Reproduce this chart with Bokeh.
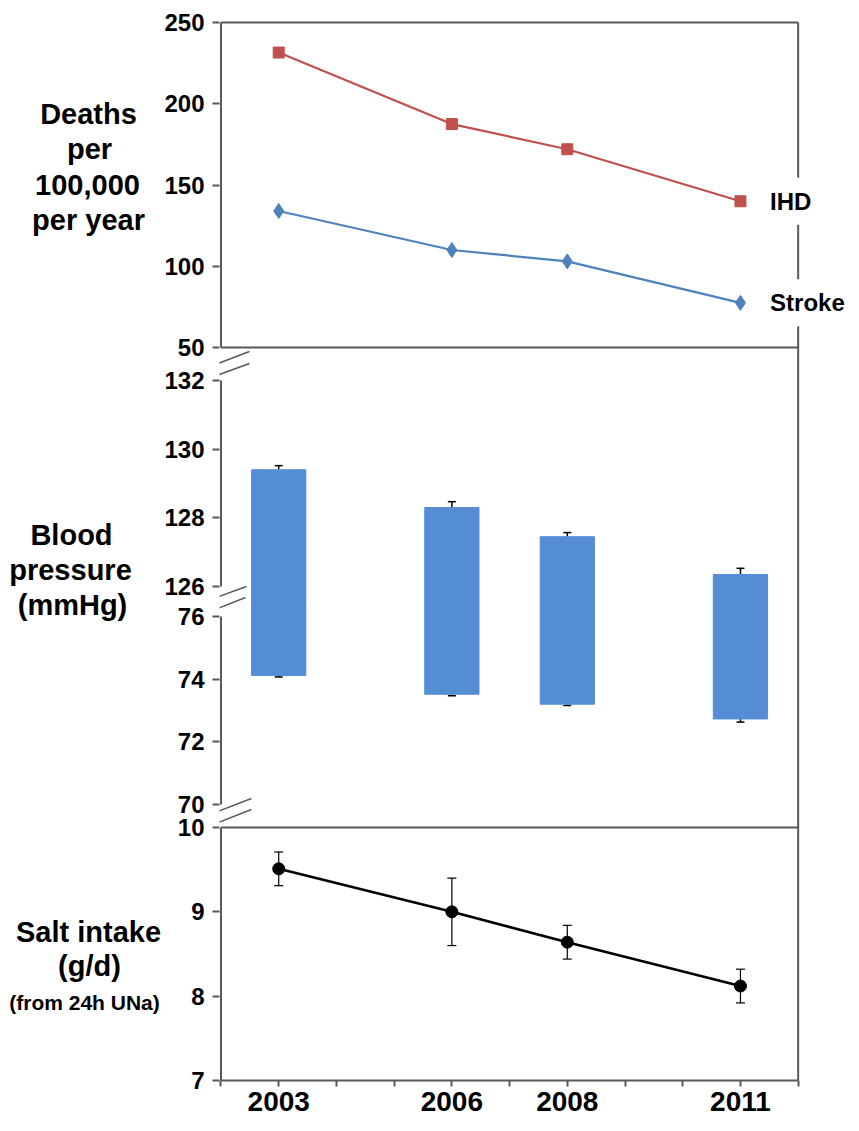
from bokeh.plotting import figure
from bokeh.layouts import row
from bokeh.models import (Range1d, FixedTicker, Arrow, Label, Whisker,
                          TeeHead, ColumnDataSource)
from bokeh.embed import file_html
from bokeh.resources import INLINE

# ---------------- data ----------------
years = [2003, 2006, 2008, 2011]
ihd = [231.5, 187.5, 172.0, 140.0]
stroke = [134.0, 110.0, 103.0, 77.5]
sbp = [129.4, 128.3, 127.45, 126.35]
sbp_err = [0.12, 0.17, 0.12, 0.18]
dbp = [74.12, 73.52, 73.2, 72.73]
dbp_err = [0.05, 0.05, 0.04, 0.1]
salt = [9.51, 9.0, 8.64, 8.12]
salt_err = [0.2, 0.4, 0.2, 0.2]

year_ticks = list(range(2002, 2013))
year_labels = ["2003", "2006", "2008", "2011"]
deaths_ticks = [50, 100, 150, 200, 250]
sbp_ticks = [126, 128, 130, 132]
dbp_ticks = [70, 72, 74, 76]
salt_ticks = [7, 8, 9, 10]

# ---------------- layout (page pixels) ----------------
TITLE_W = 161
W_TOTAL, H = 851, 1123
FRAME_L, FRAME_T, FRAME_B = 217, 20, 1080
X0, X1 = 2002, 2012
X0_PX, X1_PX = 218.5, 797.5
PANELS = {
    "deaths": (50, 250, 347, 22),
    "sys": (126, 132, 586, 380),
    "dia": (70, 76, 804, 616),
    "salt": (7, 10, 1080, 827),
}
BREAK_PX = 601
AX = "#595959"
FONT = "Liberation Sans"


def to_px(name, v):
    lo, hi, pb, pt = PANELS[name]
    return pb - (v - lo) / (hi - lo) * (pb - pt)


def from_px(name, px):
    lo, hi, pb, pt = PANELS[name]
    return lo + (pb - px) / (pb - pt) * (hi - lo)


def panel_range(name):
    return Range1d(from_px(name, FRAME_B), from_px(name, FRAME_T))


kx = (X1 - X0) / (X1_PX - X0_PX)
x_range = Range1d(X0 - (X0_PX - FRAME_L) * kx, X1 + (W_TOTAL - X1_PX) * kx)

p = figure(width=W_TOTAL - TITLE_W, height=H, title=None,
           x_range=x_range, y_range=Range1d(FRAME_B, FRAME_T),
           output_backend="svg", toolbar_location=None,
           min_border_left=FRAME_L - TITLE_W, min_border_right=0,
           min_border_top=FRAME_T, min_border_bottom=H - FRAME_B)
p.extra_y_ranges = {n: panel_range(n) for n in PANELS}
p.extra_x_ranges = {"px": Range1d(FRAME_L, W_TOTAL)}
p.outline_line_color = None
p.xgrid.visible = False
p.ygrid.visible = False
p.background_fill_color = "white"
p.border_fill_color = "white"

# ---------------- composite left axis ----------------
tick_pos = []
overrides = {}
for name, ticks in [("deaths", deaths_ticks), ("sys", sbp_ticks),
                    ("dia", dbp_ticks), ("salt", salt_ticks)]:
    for v in ticks:
        pos = round(to_px(name, v), 3)
        tick_pos.append(pos)
        overrides[pos] = str(v)
ya = p.yaxis[0]
ya.ticker = FixedTicker(ticks=tick_pos)
ya.major_label_overrides = overrides
ya.axis_line_color = None
ya.major_tick_line_color = AX
ya.major_tick_line_width = 2
ya.major_tick_out = 7
ya.major_tick_in = 0
ya.minor_tick_line_color = None
ya.major_label_standoff = 8
ya.major_label_text_font = FONT
ya.major_label_text_font_size = "24px"
ya.major_label_text_font_style = "bold"
ya.major_label_text_color = "black"

# ---------------- x axis ----------------
xa = p.xaxis[0]
xa.ticker = FixedTicker(ticks=year_ticks)
xa.bounds = (X0, X1)
xa.major_label_overrides = {y: (str(y) if str(y) in year_labels else "") for y in year_ticks}
xa.axis_line_color = AX
xa.axis_line_width = 2
xa.major_tick_line_color = AX
xa.major_tick_line_width = 2
xa.major_tick_out = 6
xa.major_tick_in = 0
xa.minor_tick_line_color = None
xa.major_label_standoff = 5
xa.major_label_text_font = FONT
xa.major_label_text_font_size = "28px"
xa.major_label_text_font_style = "bold"
xa.major_label_text_color = "black"

# ---------------- frame lines ----------------
for loc, rng in [(250, "deaths"), (50, "deaths"), (10, "salt")]:
    p.add_layout(Arrow(end=None, x_start=X0, x_end=X1, y_start=loc, y_end=loc,
                       y_range_name=rng, line_color=AX, line_width=2))
p.add_layout(Arrow(end=None, x_start=X1, x_end=X1,
                   y_start=to_px("deaths", max(deaths_ticks)),
                   y_end=to_px("salt", min(salt_ticks)),
                   line_color=AX, line_width=2))
for rng, ticks in [("deaths", deaths_ticks), ("sys", sbp_ticks),
                   ("dia", dbp_ticks), ("salt", salt_ticks)]:
    p.add_layout(Arrow(end=None, x_start=X0, x_end=X0,
                       y_start=min(ticks), y_end=max(ticks), y_range_name=rng,
                       line_color=AX, line_width=2))

# break marks (page px)
breaks = [
    ((205, 367), (247, 351)), ((203, 379), (247, 363)),
    ((197, 603), (244, 586)), ((200, 614), (243, 597)),
    ((205, 815), (249, 798)), ((203, 827), (249, 809)),
]
for (x0, y0), (x1, y1) in breaks:
    p.add_layout(Arrow(end=None, x_start=x0, y_start=y0, x_end=x1, y_end=y1,
                       x_range_name="px", line_color=AX, line_width=1.5))

# ---------------- deaths ----------------
RED = "#C0504D"
BLUE = "#4F81BD"
p.line(years, ihd, y_range_name="deaths", line_color=RED, line_width=2.2)
p.scatter(years, ihd, y_range_name="deaths", marker="square", size=11,
          fill_color=RED, line_color=RED)
p.line(years, stroke, y_range_name="deaths", line_color=BLUE, line_width=2.2)
p.scatter(years, stroke, y_range_name="deaths", marker="diamond", size=15,
          fill_color=BLUE, line_color=BLUE)
for txt, vals in [("IHD", ihd), ("Stroke", stroke)]:
    p.add_layout(Label(x=years[-1] + 0.34, y=vals[-1], y_range_name="deaths",
                       text=txt, text_baseline="middle", text_align="left",
                       text_font=FONT, text_font_size="24px",
                       text_font_style="bold", text_color="black",
                       background_fill_color="white", padding=10))

# ---------------- blood pressure ----------------
BAR = "#548DD4"
sys_cut = from_px("sys", BREAK_PX)
dia_cut = from_px("dia", BREAK_PX)
p.vbar(x=years, top=sbp, bottom=sys_cut, width=0.94, y_range_name="sys",
       fill_color=BAR, line_color=BAR)
p.vbar(x=years, top=dia_cut, bottom=dbp, width=0.94, y_range_name="dia",
       fill_color=BAR, line_color=BAR)
sys_src = ColumnDataSource(dict(x=years, lo=sbp,
                                hi=[v + e for v, e in zip(sbp, sbp_err)]))
dia_src = ColumnDataSource(dict(x=years, lo=[v - e for v, e in zip(dbp, dbp_err)],
                                hi=dbp))
p.add_layout(Whisker(source=sys_src, base="x", lower="lo", upper="hi",
                     y_range_name="sys", lower_head=None,
                     upper_head=TeeHead(size=8, line_width=1.5, line_color="black"),
                     line_width=1.5, line_color="black"))
p.add_layout(Whisker(source=dia_src, base="x", lower="lo", upper="hi",
                     y_range_name="dia", upper_head=None,
                     lower_head=TeeHead(size=8, line_width=1.5, line_color="black"),
                     line_width=1.5, line_color="black"))

# ---------------- salt ----------------
p.line(years, salt, y_range_name="salt", line_color="black", line_width=2.5)
salt_src = ColumnDataSource(dict(x=years,
                                 lo=[v - e for v, e in zip(salt, salt_err)],
                                 hi=[v + e for v, e in zip(salt, salt_err)]))
p.add_layout(Whisker(source=salt_src, base="x", lower="lo", upper="hi",
                     y_range_name="salt",
                     lower_head=TeeHead(size=9, line_width=1.2, line_color="black"),
                     upper_head=TeeHead(size=9, line_width=1.2, line_color="black"),
                     line_width=1.2, line_color="black"))
p.scatter(years, salt, y_range_name="salt", marker="circle", size=12,
          fill_color="black", line_color="black")

# ---------------- left titles (separate panel, canvas px) ----------------
t = figure(width=TITLE_W, height=H, title=None, x_range=Range1d(0, TITLE_W),
           y_range=Range1d(H, 0), min_border=0, min_border_left=0,
           min_border_right=0, min_border_top=0, min_border_bottom=0,
           x_axis_location=None, y_axis_location=None,
           output_backend="svg", toolbar_location=None)
t.outline_line_color = None
t.grid.visible = False
t.background_fill_color = "white"
t.border_fill_color = "white"
titles = [
    ("Deaths", 88, 113, 29), ("per", 89, 148, 29), ("100,000", 87, 184, 29),
    ("per year", 88, 219, 29),
    ("Blood", 71, 534, 29), ("pressure", 70, 569, 29), ("(mmHg)", 72, 604, 29),
    ("Salt intake", 88, 931, 29), ("(g/d)", 89, 965, 29),
    ("(from 24h UNa)", 84, 1002, 21),
]
for txt, x, y, fs in titles:
    t.add_layout(Label(x=x, y=y, x_units="canvas", y_units="canvas", text=txt,
                       text_align="center", text_baseline="alphabetic",
                       text_font=FONT, text_font_size=f"{fs}px",
                       text_font_style="bold", text_color="black"))

layout = row(t, p, spacing=0)
open("out.html", "w").write(file_html(layout, INLINE))
